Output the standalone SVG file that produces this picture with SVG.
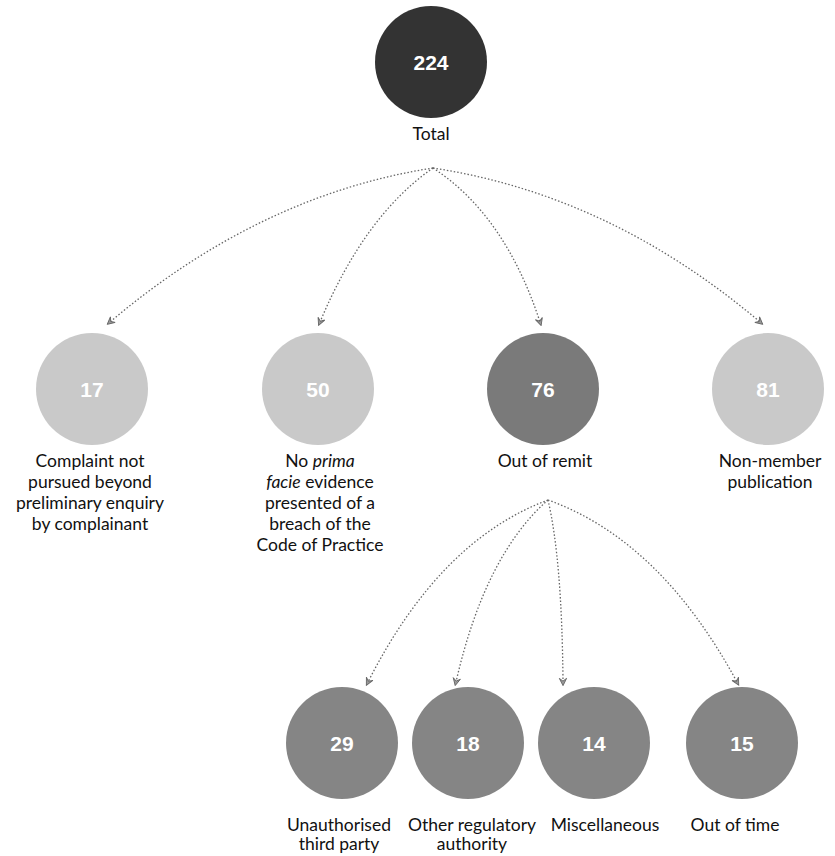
<svg xmlns="http://www.w3.org/2000/svg" width="835" height="856" viewBox="0 0 835 856">
<style>
.lbl{font-family:Lato,"Liberation Sans",sans-serif;font-size:17.5px;fill:#111;text-anchor:middle}
.num{font-family:"Liberation Sans",Arial,sans-serif;font-weight:bold;font-size:21px;fill:#fff;text-anchor:middle}
.con{fill:none;stroke:#666;stroke-width:1.3;stroke-dasharray:1.5 2}
.dark{fill:#333}
.mid{fill:#7a7a7a}
.mid2{fill:#858585}
.light{fill:#c9c9c9}
</style>
<defs>
<marker id="ah" viewBox="0 0 10 10" refX="5" refY="5" markerWidth="7" markerHeight="7" orient="auto-start-reverse">
<path d="M1,1 L9,5 L1,9 L4,5 Z" fill="#999" stroke="#666" stroke-width="1"/>
</marker>
</defs>
<g id="connectors">
<path class="con" marker-end="url(#ah)" d="M433,168 Q260,195 110,322"/>
<path class="con" marker-end="url(#ah)" d="M433,168 Q365,215 320,322"/>
<path class="con" marker-end="url(#ah)" d="M433,168 Q505,215 540,322"/>
<path class="con" marker-end="url(#ah)" d="M433,168 Q610,195 760,322"/>
<path class="con" marker-end="url(#ah)" d="M548,500 Q440,540 368,682"/>
<path class="con" marker-end="url(#ah)" d="M548,500 Q485,555 456,682"/>
<path class="con" marker-end="url(#ah)" d="M548,500 Q562,560 563,682"/>
<path class="con" marker-end="url(#ah)" d="M548,500 Q660,540 737,682"/>
</g>
<g id="total">
<circle class="dark" cx="431" cy="62" r="56"/>
<text class="num" x="431" y="70">224</text>
<text class="lbl" x="431" y="140">Total</text>
</g>
<g id="not-pursued">
<circle class="light" cx="92" cy="389" r="56"/>
<text class="num" x="92" y="397">17</text>
<text class="lbl" x="90" y="467">Complaint not</text>
<text class="lbl" x="90" y="488">pursued beyond</text>
<text class="lbl" x="90" y="509">preliminary enquiry</text>
<text class="lbl" x="90" y="530">by complainant</text>
</g>
<g id="no-prima-facie">
<circle class="light" cx="318" cy="389" r="56"/>
<text class="num" x="318" y="397">50</text>
<text class="lbl" x="320" y="467">No <tspan font-style="italic">prima</tspan></text>
<text class="lbl" x="320" y="488"><tspan font-style="italic">facie</tspan> evidence</text>
<text class="lbl" x="320" y="509">presented of a</text>
<text class="lbl" x="320" y="530">breach of the</text>
<text class="lbl" x="320" y="551">Code of Practice</text>
</g>
<g id="out-of-remit">
<circle class="mid" cx="543" cy="389" r="56"/>
<text class="num" x="543" y="397">76</text>
<text class="lbl" x="545" y="467">Out of remit</text>
</g>
<g id="non-member">
<circle class="light" cx="768" cy="389" r="56"/>
<text class="num" x="768" y="397">81</text>
<text class="lbl" x="770" y="467">Non-member</text>
<text class="lbl" x="770" y="488">publication</text>
</g>
<g id="unauthorised">
<circle class="mid2" cx="342" cy="743" r="56"/>
<text class="num" x="342" y="751">29</text>
<text class="lbl" x="339" y="831">Unauthorised</text>
<text class="lbl" x="339" y="850">third party</text>
</g>
<g id="other-regulatory">
<circle class="mid2" cx="468" cy="743" r="56"/>
<text class="num" x="468" y="751">18</text>
<text class="lbl" x="472" y="831">Other regulatory</text>
<text class="lbl" x="472" y="850">authority</text>
</g>
<g id="miscellaneous">
<circle class="mid2" cx="594" cy="743" r="56"/>
<text class="num" x="594" y="751">14</text>
<text class="lbl" x="605" y="831">Miscellaneous</text>
</g>
<g id="out-of-time">
<circle class="mid2" cx="742" cy="743" r="56"/>
<text class="num" x="742" y="751">15</text>
<text class="lbl" x="735" y="831">Out of time</text>
</g>
</svg>
